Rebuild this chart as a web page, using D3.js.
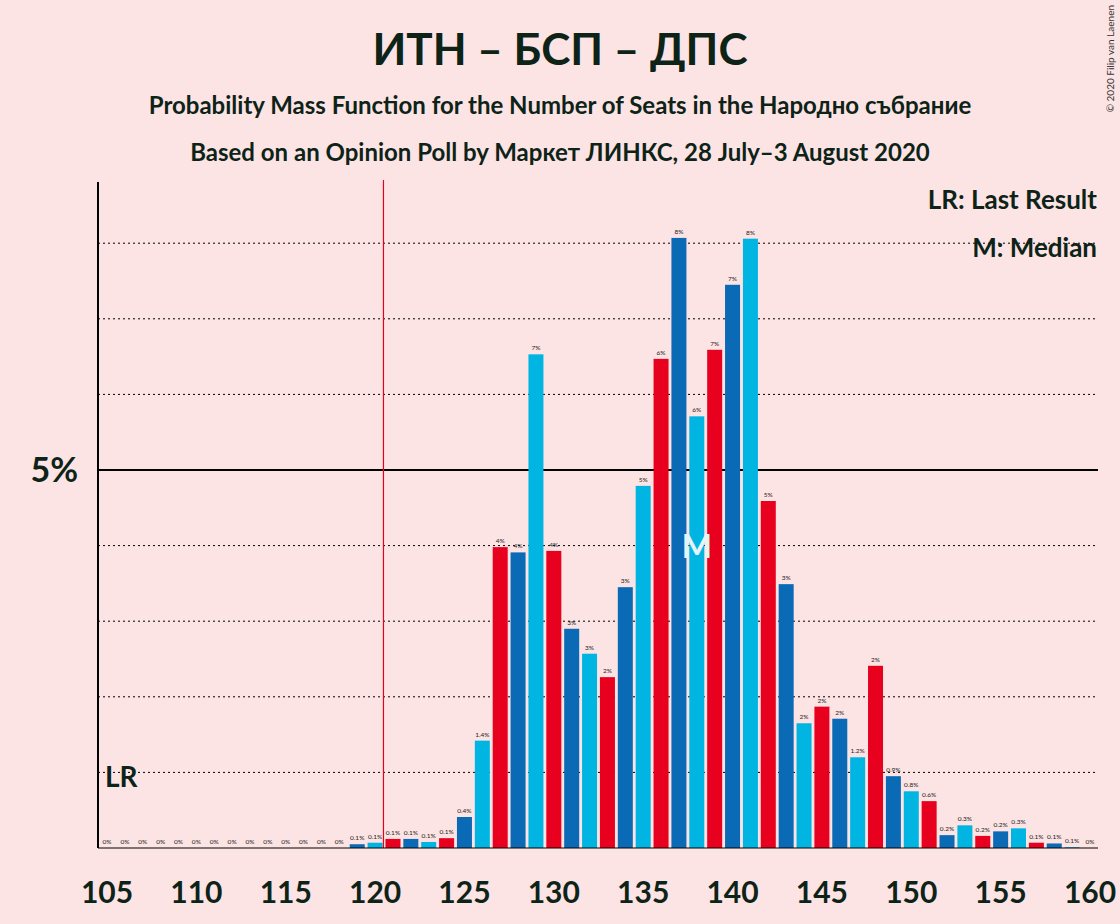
<!DOCTYPE html>
<html lang="en">
  <head>
    <meta charset="UTF-8" />
    <title>ИТН – БСП – ДПС</title>
    <style>
      body { margin: 0; background: #fde4e4; }
      svg { font-family: Lato, "Open Sans", sans-serif; }
    </style>
  </head>
  <body>
    <svg id="chart" width="1120" height="924"></svg>
    <script src="https://d3js.org/d3.v7.min.js"></script>
    <script>
      const seats = d3.range(105, 161);
      const probs = [
        0, 0, 0, 0, 0, 0, 0, 0, 0, 0, 0, 0, 0, 0,
        0.05, 0.07, 0.12, 0.12, 0.08, 0.13, 0.41, 1.42, 3.98, 3.91, 6.53, 3.93,
        2.9, 2.57, 2.26, 3.45, 4.79, 6.47, 8.07, 5.71, 6.59, 7.45, 8.06, 4.59,
        3.49, 1.65, 1.87, 1.71, 1.2, 2.41, 0.95, 0.75, 0.62, 0.17, 0.3, 0.16,
        0.22, 0.26, 0.07, 0.06, 0.01, 0
      ];
      const xTicks = [105, 110, 115, 120, 125, 130, 135, 140, 145, 150, 155, 160];
      const lastResult = 121;
      const median = 138;
      const colors = ["#0a6ab6", "#00b5e2", "#e8001f"];

      const svg = d3.select("#chart");
      const x = d3.scaleLinear().domain([105, 160]).range([107, 1090]);
      const y = d3.scaleLinear().domain([0, 5]).range([848, 470]);

      // gridlines
      [1, 2, 3, 4, 6, 7, 8].forEach((v) => {
        svg.append("line").attr("x1", 98).attr("x2", 1098)
          .attr("y1", y(v)).attr("y2", y(v))
          .attr("stroke", "#000").attr("stroke-dasharray", "2,3").attr("stroke-width", 1);
      });
      svg.append("line").attr("x1", 98).attr("x2", 1098)
        .attr("y1", y(5)).attr("y2", y(5)).attr("stroke", "#000").attr("stroke-width", 2);

      // bars
      seats.forEach((s, i) => {
        const v = probs[i];
        const c = colors[(((s - 125) % 3) + 3) % 3];
        if (v > 0) {
          svg.append("rect").attr("x", x(s) - 7.5).attr("width", 15)
            .attr("y", y(v)).attr("height", y(0) - y(v)).attr("fill", c);
        }
        const lab = v === 0 ? "0%" : v < 1.5 ? d3.format(".1f")(Math.max(v, 0.1)) + "%" : Math.round(v) + "%";
        svg.append("text").attr("x", x(s)).attr("y", y(v) - 4)
          .attr("text-anchor", "middle").attr("font-size", 6.5).attr("fill", "#222")
          .text(lab);
      });

      // last result line
      svg.append("line").attr("x1", x(lastResult) - 9.5).attr("x2", x(lastResult) - 9.5)
        .attr("y1", 180).attr("y2", 848).attr("stroke", "#e8001f").attr("stroke-width", 1.2);
      svg.append("text").attr("x", 105).attr("y", 787).attr("font-size", 28)
        .attr("font-weight", "bold").attr("fill", "#0d2318").text("LR");

      // median marker
      svg.append("text").attr("x", x(median)).attr("y", 558).attr("text-anchor", "middle")
        .attr("font-size", 32).attr("font-weight", "bold").attr("fill", "#e6f4f8").text("M");

      // axes
      svg.append("line").attr("x1", 98).attr("x2", 98).attr("y1", 182).attr("y2", 848)
        .attr("stroke", "#000").attr("stroke-width", 2);
      svg.append("line").attr("x1", 98).attr("x2", 1098).attr("y1", 848).attr("y2", 848)
        .attr("stroke", "#000").attr("stroke-width", 1);
      svg.append("text").attr("x", 78).attr("y", 482).attr("text-anchor", "end")
        .attr("font-size", 34).attr("font-weight", "bold").attr("fill", "#0d2318").text("5%");
      xTicks.forEach((t) => {
        svg.append("text").attr("x", x(t)).attr("y", 903).attr("text-anchor", "middle")
          .attr("font-size", 30).attr("font-weight", "bold").attr("fill", "#0d2318").text(t);
      });

      // titles
      svg.append("text").attr("x", 560).attr("y", 65).attr("text-anchor", "middle")
        .attr("font-size", 44).attr("font-weight", "bold").attr("fill", "#0d2318").text("ИТН – БСП – ДПС");
      svg.append("text").attr("x", 560).attr("y", 114).attr("text-anchor", "middle")
        .attr("font-size", 24).attr("font-weight", "bold").attr("fill", "#0d2318")
        .text("Probability Mass Function for the Number of Seats in the Народно събрание");
      svg.append("text").attr("x", 560).attr("y", 161).attr("text-anchor", "middle")
        .attr("font-size", 24).attr("font-weight", "bold").attr("fill", "#0d2318")
        .text("Based on an Opinion Poll by Маркет ЛИНКС, 28 July–3 August 2020");

      // legend
      svg.append("text").attr("x", 1097).attr("y", 209).attr("text-anchor", "end")
        .attr("font-size", 26).attr("font-weight", "bold").attr("fill", "#0d2318").text("LR: Last Result");
      svg.append("text").attr("x", 1097).attr("y", 257).attr("text-anchor", "end")
        .attr("font-size", 26).attr("font-weight", "bold").attr("fill", "#0d2318").text("M: Median");

      svg.append("text").attr("transform", "translate(1114,5) rotate(-90)")
        .attr("text-anchor", "end").attr("font-size", 10).attr("fill", "#333")
        .text("© 2020 Filip van Laenen");
    </script>
  </body>
</html>
